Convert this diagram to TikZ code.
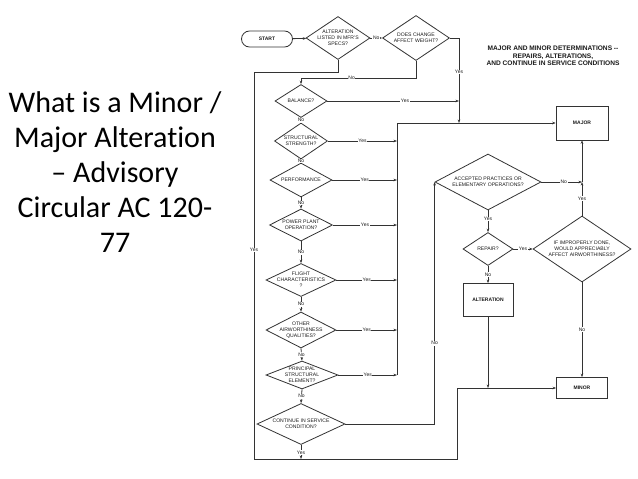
\documentclass[tikz,border=0pt]{standalone}
\usepackage{fontspec}
\setmainfont{Liberation Sans}
\newfontfamily\titlefont[Ligatures=NoCommon]{Carlito}
\usetikzlibrary{shapes.geometric,arrows.meta}
\definecolor{lc}{HTML}{333333}
\definecolor{tc}{HTML}{1A1A1A}
\begin{document}
\begin{tikzpicture}[x=1pt,y=-1pt,
  line/.style={draw=lc, line width=0.8pt},
  arr/.style={line, -{Stealth[length=3.5pt,width=2.6pt]}},
  dia/.style={diamond, draw=lc, line width=0.8pt, inner sep=0pt, fill=white},
  dtext/.style={font=\fontsize{5.1}{5.9}\selectfont, align=center, inner sep=0pt, text=tc},
  boxn/.style={rectangle, draw=lc, line width=0.8pt, inner sep=0pt, font=\fontsize{5}{6}\selectfont\bfseries, text=tc},
  lbl/.style={font=\fontsize{5}{6}\selectfont, fill=white, inner sep=0.6pt, text=tc},
]
\fill[white] (0,0) rectangle (638,479);
\useasboundingbox (0,0) rectangle (638,479);

% left title
\node[font=\titlefont\fontsize{30}{35}\selectfont, align=center, inner sep=0pt] (title) at (115,172)
  {What is a Minor /\\Major Alteration\\– Advisory\\Circular AC 120-\\77};

% header
\node[font=\fontsize{6.6}{7.6}\selectfont\bfseries, align=center, text=tc, inner sep=0pt] (head) at (553,56)
  {MAJOR AND MINOR DETERMINATIONS -{}-\\REPAIRS, ALTERATIONS,\\AND CONTINUE IN SERVICE CONDITIONS};

% nodes
\node[boxn, rounded corners=8pt, minimum width=51pt, minimum height=16pt] (start) at (267,39) {START};
\node[dia, minimum width=64pt, minimum height=43pt, label={[dtext]center:{ALTERATION\\LISTED IN MFR'S\\SPECS?}}] (d1) at (338,38) {};
\node[dia, minimum width=67pt, minimum height=45pt, label={[dtext]center:{DOES CHANGE\\AFFECT WEIGHT?}}] (d2) at (416,38) {};
\node[dia, minimum width=52pt, minimum height=33pt, label={[dtext]center:{BALANCE?}}] (bal) at (301,101) {};
\node[dia, minimum width=53pt, minimum height=36pt, label={[dtext]center:{STRUCTURAL\\STRENGTH?}}] (str) at (301,141) {};
\node[dia, minimum width=62pt, minimum height=34pt, label={[dtext]center:{PERFORMANCE}}] (perf) at (301,180) {};
\node[dia, minimum width=63pt, minimum height=32pt, label={[dtext]center:{POWER PLANT\\OPERATION?}}] (pp) at (301,225) {};
\node[dia, minimum width=70pt, minimum height=33pt, label={[dtext]center:{FLIGHT\\CHARACTERISTICS\\?}}] (fc) at (301,280) {};
\node[dia, minimum width=70pt, minimum height=36pt, label={[dtext]center:{OTHER\\AIRWORTHINESS\\QUALITIES?}}] (oaq) at (301,330) {};
\node[dia, minimum width=72pt, minimum height=28pt, label={[dtext]center:{PRINCIPAL\\STRUCTURAL\\ELEMENT?}}] (pse) at (302,375) {};
\node[dia, minimum width=88pt, minimum height=41pt, label={[dtext]center:{CONTINUE IN SERVICE\\CONDITION?}}] (cis) at (301,424) {};
\node[dia, minimum width=106pt, minimum height=56pt, label={[dtext]center:{ACCEPTED PRACTICES OR\\ELEMENTARY OPERATIONS?}}] (acc) at (488,182) {};
\node[dia, minimum width=50pt, minimum height=33pt, label={[dtext]center:{REPAIR?}}] (rep) at (488,249) {};
\node[dia, minimum width=98pt, minimum height=66pt, label={[dtext]center:{IF IMPROPERLY DONE,\\WOULD APPRECIABLY\\AFFECT AIRWORTHINESS?}}] (imp) at (582,249) {};
\node[boxn, minimum width=52pt, minimum height=34pt] (major) at (582,123) {MAJOR};
\node[boxn, minimum width=50pt, minimum height=33pt] (alt) at (488,300) {ALTERATION};
\node[boxn, minimum width=51pt, minimum height=21pt] (minor) at (582,388) {MINOR};

% junction coordinates
\coordinate (j1) at (459,123);
\coordinate (busTop) at (397,123);
\coordinate (busBot) at (397,375);
\coordinate (lt) at (338,72);
\coordinate (lb) at (254,459);
\coordinate (rb) at (457,459);
\coordinate (nb) at (416,78);
\coordinate (jm) at (582,182);
\coordinate (ja) at (488,388);
\coordinate (jc) at (301,459);

% top row
\draw[arr] (start) -- (d1);
\draw[arr] (d1.east) -- node[lbl]{No} (d2.west);
\draw[arr] (d2.east) -| node[lbl, pos=0.7]{Yes} (j1);
\draw[arr] (d2.south) -- (nb) -| node[lbl, pos=0.28]{No} (bal.north);
\draw[arr] (bal.east) -- node[lbl, pos=0.59]{Yes} (bal.east -| j1);

% bus to MAJOR
\draw[line] (busBot) -- (busTop);
\draw[arr] (busTop) -- (major.west);
\draw[arr] (str.east) -- node[lbl]{Yes} (str.east -| busTop);
\draw[arr] (perf.east) -- node[lbl]{Yes} (perf.east -| busTop);
\draw[arr] (pp.east) -- node[lbl]{Yes} (pp.east -| busTop);
\draw[arr] (fc.east) -- node[lbl]{Yes} (fc.east -| busTop);
\draw[arr] (oaq.east) -- node[lbl]{Yes} (oaq.east -| busTop);
\draw[arr] (pse.east) -- node[lbl]{Yes} (pse.east -| busTop);

% No chain
\draw[arr] (bal.south) -- node[lbl]{No} (str.north);
\draw[arr] (str.south) -- node[lbl]{No} (perf.north);
\draw[arr] (perf.south) -- node[lbl]{No} (pp.north);
\draw[arr] (pp.south) -- node[lbl]{No} (fc.north);
\draw[arr] (fc.south) -- node[lbl]{No} (oaq.north);
\draw[arr] (oaq.south) -- node[lbl]{No} (pse.north);
\draw[arr] (pse.south) -- node[lbl]{No} (cis.north);
\draw[arr] (cis.south) -- node[lbl, pos=0.55]{Yes} (jc);

% long left Yes line to MINOR
\draw[arr] (d1.south) -- (lt) -| node[lbl, pos=0.73]{Yes} (lb) -- (rb) |- (minor.west);

% CONTINUE No to ACCEPTED
\draw[arr] (cis.east) -| node[lbl, pos=0.667]{No} (acc.west);

% right part
\draw[arr] (acc.east) -- node[lbl, pos=0.55]{No} (jm);
\draw[arr] (imp.north) -- node[lbl]{Yes} (jm);
\draw[arr] (jm) -- (major.south);
\draw[arr] (acc.south) -- node[lbl, pos=0.4]{Yes} (rep.north);
\draw[arr] (rep.east) -- node[lbl]{Yes} (imp.west);
\draw[arr] (rep.south) -- node[lbl]{No} (alt.north);
\draw[arr] (alt.south) -- (ja);
\draw[arr] (imp.south) -- node[lbl, pos=0.5]{No} (minor.north);
\end{tikzpicture}
\end{document}
